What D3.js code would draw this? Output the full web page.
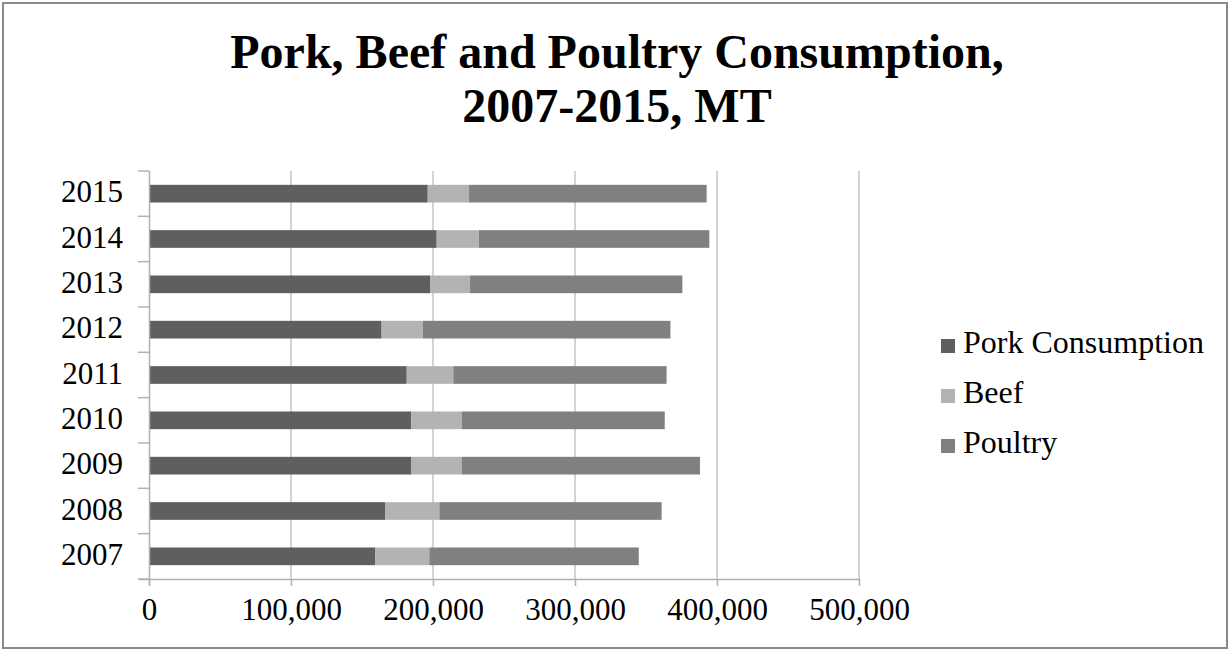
<!DOCTYPE html>
<html>
<head>
<meta charset="utf-8">
<script src="https://cdn.jsdelivr.net/npm/d3@7"></script>
<style>
  html, body { margin: 0; padding: 0; background: #fff; }
  svg { display: block; }
  text { font-family: "Liberation Serif", "Times New Roman", serif; fill: #000; }
</style>
</head>
<body>
<svg id="chart" width="1230" height="651"></svg>
<script>
// ---- data ----
const years = ["2007", "2008", "2009", "2010", "2011", "2012", "2013", "2014", "2015"];
const seriesNames = ["Pork Consumption", "Beef", "Poultry"];
const pork    = [159200, 166200, 184500, 184600, 181500, 163800, 197900, 202600, 196300];
const beef    = [ 38200,  38300,  35700,  35800,  32800,  29000,  28200,  29800,  29100];
const poultry = [147500, 156500, 167800, 142800, 150200, 174400, 149500, 162200, 167300];
const xTicks  = [0, 100000, 200000, 300000, 400000, 500000];
const titleLines = ["Pork, Beef and Poultry Consumption,", "2007-2015, MT"];
const colors = ["#5f5f5f", "#b3b3b3", "#808080"];

// ---- build table ----
const rows = years.map((y, i) => ({ year: y, "Pork Consumption": pork[i], "Beef": beef[i], "Poultry": poultry[i] }));
const stacked = d3.stack().keys(seriesNames)(rows);

const svg = d3.select("#chart");

// outer frame
svg.append("rect")
  .attr("x", 3).attr("y", 3).attr("width", 1224).attr("height", 645)
  .attr("fill", "#fff").attr("stroke", "#8a8a8a").attr("stroke-width", 2);

// title
svg.append("g").selectAll("text").data(titleLines).join("text")
  .attr("x", 617).attr("y", (d, i) => 68 + i * 54)
  .attr("text-anchor", "middle")
  .attr("font-size", 48).attr("font-weight", "bold")
  .text(d => d);

// scales
const x = d3.scaleLinear().domain([0, 500000]).range([149, 859]);
const y = d3.scaleBand().domain(years.slice().reverse()).range([171, 579])
  .paddingInner(0.61).paddingOuter(0.305);
const step = y.step();

// gridlines
svg.append("g").selectAll("line").data(xTicks.slice(1)).join("line")
  .attr("x1", d => x(d)).attr("x2", d => x(d))
  .attr("y1", 171).attr("y2", 579)
  .attr("stroke", "#c4c4c4").attr("stroke-width", 1.5);

// bars
svg.append("g").selectAll("g").data(stacked).join("g")
  .attr("fill", (d, i) => colors[i])
  .selectAll("rect").data(d => d).join("rect")
  .attr("x", d => x(d[0]))
  .attr("width", d => x(d[1]) - x(d[0]))
  .attr("y", d => y(d.data.year))
  .attr("height", y.bandwidth());

// x axis
const xAxis = d3.axisBottom(x).tickValues(xTicks).tickSize(7).tickPadding(12)
  .tickFormat(d3.format(","));
const gx = svg.append("g").attr("transform", "translate(0,579)").call(xAxis);
gx.select(".domain").attr("d", "M139,0.5H859");
gx.selectAll(".domain, .tick line").attr("stroke", "#b0b0b0").attr("stroke-width", 1.5);
gx.selectAll(".tick text")
  .attr("font-family", "Liberation Serif, Times New Roman, serif")
  .attr("font-size", 31).attr("fill", "#000")
  .attr("dy", "0.71em");

// y axis
const yAxis = d3.axisLeft(y).tickSize(0).tickPadding(26);
const gy = svg.append("g").attr("transform", "translate(149,0)").call(yAxis);
gy.select(".domain").attr("d", "M0.5,171V586");
gy.selectAll(".domain").attr("stroke", "#b0b0b0").attr("stroke-width", 1.5);
gy.selectAll(".tick text")
  .attr("font-family", "Liberation Serif, Times New Roman, serif")
  .attr("font-size", 31).attr("fill", "#000")
  .attr("dy", "0.28em");

// category boundary ticks
const bounds = d3.range(years.length + 1).map(i => 171 + i * step);
svg.append("g").selectAll("line").data(bounds).join("line")
  .attr("x1", 138).attr("x2", 149)
  .attr("y1", d => d).attr("y2", d => d)
  .attr("stroke", "#b0b0b0").attr("stroke-width", 1.5);

// legend
const lg = svg.append("g").selectAll("g").data(seriesNames).join("g")
  .attr("transform", (d, i) => `translate(941,${339 + i * 50})`);
lg.append("rect").attr("width", 14).attr("height", 14)
  .attr("fill", (d, i) => colors[i]);
lg.append("text").attr("x", 22).attr("y", 14)
  .attr("font-size", 32).text(d => d);
</script>
</body>
</html>
